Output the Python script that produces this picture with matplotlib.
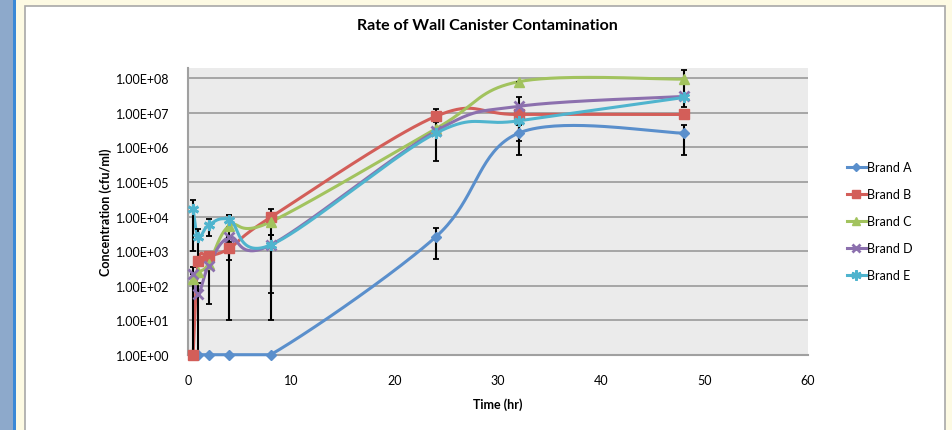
import numpy as np
import matplotlib
matplotlib.use("Agg")
import matplotlib.pyplot as plt
from matplotlib.patches import Rectangle
from matplotlib.lines import Line2D

plt.rcParams['font.family'] = ['Lato', 'DejaVu Sans']

# ---------------- data ----------------
time_hr = [0.5, 1, 2, 4, 8, 24, 32, 48]
brand_a = [1, 1, 1, 1, 1, 2.6e3, 2.6e6, 2.6e6]
brand_b = [1, 500, 700, 1200, 9500, 8.0e6, 9.0e6, 9.0e6]
brand_c = [155, 240, 420, 5400, 7000, 3.5e6, 8.0e7, 9.5e7]
brand_d = [215, 57, 380, 2500, 1500, 3.0e6, 1.55e7, 3.0e7]
brand_e = [1.6e4, 2500, 5700, 8100, 1500, 2.6e6, 5.9e6, 2.8e7]

err_a = [0, 0, 0, 0, 0, 2.0e3, 2.0e6, 2.0e6]
err_b = [0, 0, 0, 650, 6500, 5.0e6, 0, 0]
err_c = [200, 0, 0, 5390, 0, 0, 0, 8.0e7]
err_d = [0, 60, 350, 0, 1440, 2.6e6, 1.4e7, 0]
err_e = [1.5e4, 2000, 3000, 3000, 1490, 0, 0, 0]

series_names = ["Brand A", "Brand B", "Brand C", "Brand D", "Brand E"]
series_values = [brand_a, brand_b, brand_c, brand_d, brand_e]
series_errors = [err_a, err_b, err_c, err_d, err_e]
colors = ["#5A8FCC", "#D35E59", "#A2C35E", "#8C70AE", "#4FB4CE"]
markers = ["D", "s", "^", "x", (6, 2, 0)]
msizes = [5, 7, 7, 7, 8]

y_ticks = [1e0, 1e1, 1e2, 1e3, 1e4, 1e5, 1e6, 1e7, 1e8]
y_tick_labels = ["1.00E+00", "1.00E+01", "1.00E+02", "1.00E+03", "1.00E+04",
                 "1.00E+05", "1.00E+06", "1.00E+07", "1.00E+08"]
x_ticks = [0, 10, 20, 30, 40, 50, 60]


def excel_smooth(xs, ys, n=40):
    """Bezier smoothing (Catmull-Rom style, like Excel's smoothed line) in x / log10(y) space."""
    px = np.asarray(xs, float)
    py = np.log10(np.asarray(ys, float))
    outx, outy = [], []
    m = len(px)
    t = np.linspace(0, 1, n)
    for i in range(m - 1):
        i0 = max(i - 1, 0)
        i3 = min(i + 2, m - 1)
        p0 = np.array([px[i], py[i]])
        p3 = np.array([px[i + 1], py[i + 1]])
        c1 = p0 + (np.array([px[i + 1], py[i + 1]]) - np.array([px[i0], py[i0]])) / 6.0
        c2 = p3 - (np.array([px[i3], py[i3]]) - np.array([px[i], py[i]])) / 6.0
        b = ((1 - t) ** 3)[:, None] * p0 + (3 * (1 - t) ** 2 * t)[:, None] * c1 \
            + (3 * (1 - t) * t ** 2)[:, None] * c2 + (t ** 3)[:, None] * p3
        outx.extend(b[:, 0])
        outy.extend(b[:, 1])
    # the plot area floor (1e0) clips the curve, as in the original chart
    return np.array(outx), np.maximum(10 ** np.array(outy), 1.0)


W, H = 953, 431
fig = plt.figure(figsize=(W / 100, H / 100), dpi=100)
fig.patch.set_facecolor("#FDFAE3")

# window decorations (drawn behind the axes)
fig.patches.append(Rectangle((0, 0), 13 / W, 1, transform=fig.transFigure,
                             facecolor="#8DA9CB", edgecolor="none", zorder=-10))
fig.patches.append(Rectangle((13 / W, 0), 3 / W, 1, transform=fig.transFigure,
                             facecolor="#3A89D6", edgecolor="none", zorder=-10))
fig.patches.append(Rectangle((25 / W, -0.05), (945 - 25) / W, 1.05 - 7 / H,
                             transform=fig.transFigure, facecolor="white",
                             edgecolor="#A8A8A8", linewidth=1.2, zorder=-10))

ax_left, ax_right, ax_top, ax_bot = 188, 808, 69, 355.7
ax = fig.add_axes([ax_left / W, 1 - ax_bot / H, (ax_right - ax_left) / W, (ax_bot - ax_top) / H])
ax.set_zorder(1)
ax.set_facecolor("#EBEBEB")

ax.set_yscale("log")
ax.set_xlim(0, 60)
ax.set_ylim(1, 10 ** 8.3)

for name, vals, errs, col, mk, ms in zip(series_names, series_values, series_errors,
                                         colors, markers, msizes):
    sx, sy = excel_smooth(time_hr, vals)
    ax.plot(sx, sy, color=col, lw=2.2, zorder=3, clip_on=False)
    ax.errorbar(time_hr, vals, yerr=errs, fmt="none", ecolor="black",
                elinewidth=1.5, capsize=2.5, capthick=1.3, zorder=4)
    mew = 2 if mk in ("x",) or isinstance(mk, tuple) else 1
    ax.plot(time_hr, vals, linestyle="none", marker=mk, markersize=ms,
            color=col, markeredgecolor=col, markeredgewidth=mew, zorder=5, clip_on=False)

ax.set_yticks(y_ticks)
ax.set_yticklabels(y_tick_labels)
ax.minorticks_off()
ax.set_xticks(x_ticks)
ax.set_xticklabels([str(v) for v in x_ticks])
ax.tick_params(axis="both", length=0, labelsize=9, colors="black")
ax.tick_params(axis="y", pad=13)
ax.tick_params(axis="x", pad=14)
ax.grid(axis="y", color="#A0A0A0", lw=1.3)
ax.set_axisbelow(True)
for s in ["top", "right"]:
    ax.spines[s].set_visible(False)
for s in ["left", "bottom"]:
    ax.spines[s].set_color("#A0A0A0")
    ax.spines[s].set_linewidth(1.5)

ax.set_xlabel("Time (hr)", fontsize=9, fontweight="bold", labelpad=8)
ax.set_ylabel("Concentration (cfu/ml)", fontsize=9, fontweight="bold", labelpad=3)
fig.text(487 / W, 1 - 26 / H, "Rate of Wall Canister Contamination", ha="center",
         va="center", fontsize=11.5, fontweight="bold")

handles = [Line2D([0], [0], color=c, lw=2.2, marker=m, markersize=ms * 0.9,
                  markeredgewidth=(2 if (m == "x" or isinstance(m, tuple)) else 1))
           for c, m, ms in zip(colors, markers, msizes)]
fig.legend(handles, series_names, loc="upper left", bbox_to_anchor=(842 / W, 1 - 157 / H),
           frameon=False, fontsize=9, handlelength=1.5, handletextpad=0.1,
           labelspacing=1.2, borderaxespad=0)

fig.savefig("out.png", dpi=100, facecolor=fig.get_facecolor())
